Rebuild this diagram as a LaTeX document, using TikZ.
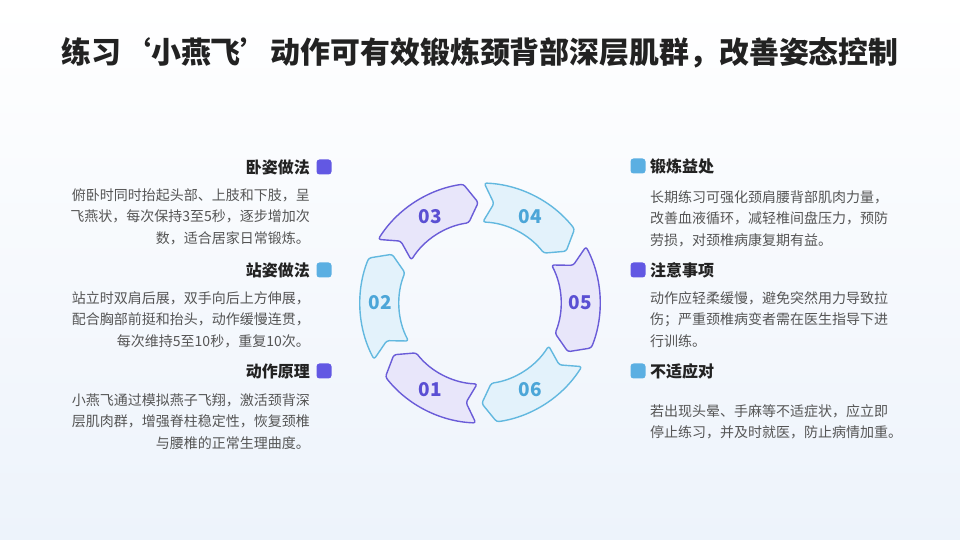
\documentclass[tikz,border=0pt]{standalone}
\usepackage{fontspec}
\setmainfont{Noto Sans CJK SC}
\definecolor{purp}{HTML}{6A5CD8}
\definecolor{purpfill}{HTML}{E8E6FA}
\definecolor{blu}{HTML}{62B8DF}
\definecolor{blufill}{HTML}{E3F2FB}
\definecolor{purptext}{HTML}{5A4FD3}
\definecolor{blutext}{HTML}{4CA6D8}
\definecolor{sqpurp}{HTML}{6258E3}
\definecolor{sqblue}{HTML}{5BAFE2}
\definecolor{headcol}{HTML}{222222}
\definecolor{bodycol}{HTML}{555555}
\definecolor{bgbottom}{HTML}{EDF3FB}
\newcommand\ringseg[3]{%
  \draw[segline, draw=#2, fill=#3] (#1+28:120) arc[start angle=#1+28, end angle=#1-22, radius=120]
    -- (#1-29:100.5) -- (#1-22:81) arc[start angle=#1-22, end angle=#1+28, radius=81]
    -- (#1+22:100.5) -- cycle;}
\begin{document}
\begin{tikzpicture}[x=1pt,y=1pt,
  segline/.style={line width=1.4pt, rounded corners=2.5pt, line join=round},
  numlabel/.style={font=\bfseries\fontsize{19}{19}\selectfont, inner sep=0pt},
  sqnode/.style={rectangle, rounded corners=3pt, minimum size=15pt, inner sep=0pt},
  headtext/.style={font=\bfseries\fontsize{16}{16}\selectfont, text=headcol, inner sep=0pt},
  bodytext/.style={font=\fontsize{14}{21.5}\selectfont, text=bodycol, inner sep=0pt}]
\shade[top color=white, bottom color=bgbottom] (0,0) rectangle (960,540);
\useasboundingbox (0,0) rectangle (960,540);
\node[font=\bfseries\fontsize{29.9}{30}\selectfont, text=headcol, inner sep=0pt] (title) at (480,487)
  {练习‘小燕飞’动作可有效锻炼颈背部深层肌群，改善姿态控制};
\begin{scope}[shift={(480,237)}]
  \ringseg{240}{purp}{purpfill}
  \ringseg{180}{blu}{blufill}
  \ringseg{120}{purp}{purpfill}
  \ringseg{60}{blu}{blufill}
  \ringseg{0}{purp}{purpfill}
  \ringseg{300}{blu}{blufill}
  \node[numlabel, text=purptext] (n1) at (240:100) {01};
  \node[numlabel, text=blutext] (n2) at (180:100) {02};
  \node[numlabel, text=purptext] (n3) at (120:100) {03};
  \node[numlabel, text=blutext] (n4) at (60:100) {04};
  \node[numlabel, text=purptext] (n5) at (0:100) {05};
  \node[numlabel, text=blutext] (n6) at (300:100) {06};
\end{scope}
% left column
\node[sqnode, fill=sqpurp] (sq1) at (324,373) {};
\node[headtext, anchor=east] (h1) at (310,373) {卧姿做法};
\node[bodytext, anchor=base east, align=right] (b1) at (310,296.7)
  {俯卧时同时抬起头部、上肢和下肢，呈\\飞燕状，每次保持3至5秒，逐步增加次\\数，适合居家日常锻炼。};
\node[sqnode, fill=sqblue] (sq2) at (324,270) {};
\node[headtext, anchor=east] (h2) at (310,270) {站姿做法};
\node[bodytext, anchor=base east, align=right] (b2) at (310,193.7)
  {站立时双肩后展，双手向后上方伸展，\\配合胸部前挺和抬头，动作缓慢连贯，\\每次维持5至10秒，重复10次。};
\node[sqnode, fill=sqpurp] (sq3) at (324,169) {};
\node[headtext, anchor=east] (h3) at (310,169) {动作原理};
\node[bodytext, anchor=base east, align=right] (b3) at (310,91.7)
  {小燕飞通过模拟燕子飞翔，激活颈背深\\层肌肉群，增强脊柱稳定性，恢复颈椎\\与腰椎的正常生理曲度。};
% right column
\node[sqnode, fill=sqblue] (sq4) at (638,374) {};
\node[headtext, anchor=west] (h4) at (650,374) {锻炼益处};
\node[bodytext, anchor=base west, align=left] (b4) at (650,294.7)
  {长期练习可强化颈肩腰背部肌肉力量，\\改善血液循环，减轻椎间盘压力，预防\\劳损，对颈椎病康复期有益。};
\node[sqnode, fill=sqpurp] (sq5) at (638,270) {};
\node[headtext, anchor=west] (h5) at (650,270) {注意事项};
\node[bodytext, anchor=base west, align=left] (b5) at (650,193.7)
  {动作应轻柔缓慢，避免突然用力导致拉\\伤；严重颈椎病变者需在医生指导下进\\行训练。};
\node[sqnode, fill=sqblue] (sq6) at (638,169) {};
\node[headtext, anchor=west] (h6) at (650,169) {不适应对};
\node[bodytext, anchor=base west, align=left] (b6) at (650,102.2)
  {若出现头晕、手麻等不适症状，应立即\\停止练习，并及时就医，防止病情加重。};
\end{tikzpicture}
\end{document}
